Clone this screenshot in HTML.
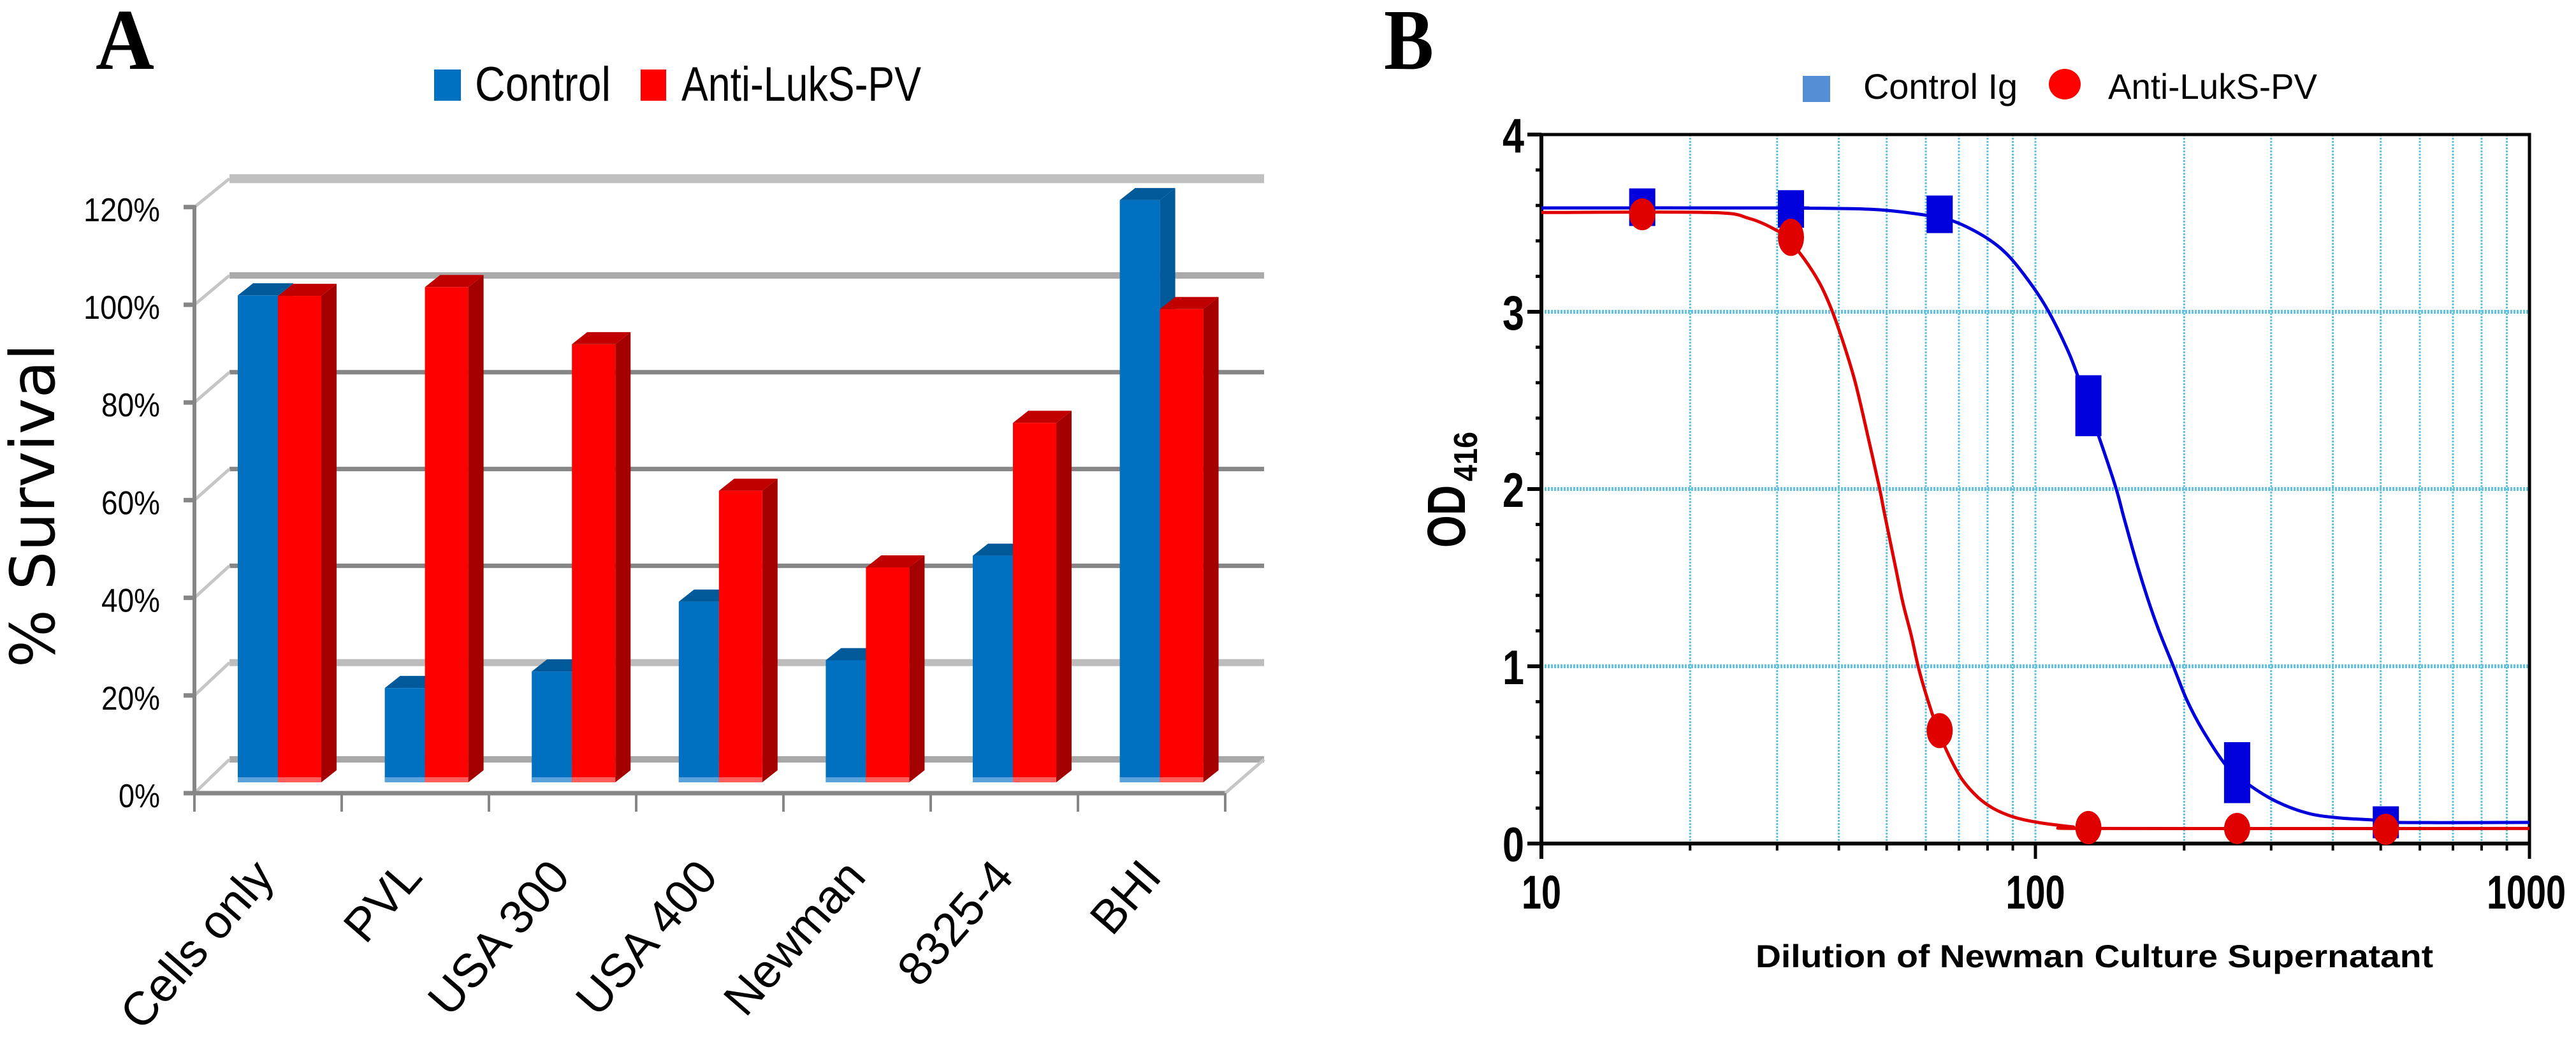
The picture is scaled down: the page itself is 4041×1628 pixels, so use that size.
<!DOCTYPE html>
<html lang="en"><head><meta charset="utf-8"><title>Survival and OD416 charts</title>
<style>html,body{margin:0;padding:0;background:#fff}svg{display:block}text{font-family:"Liberation Sans",sans-serif;fill:#000}</style></head>
<body>
<svg id="fig" xmlns="http://www.w3.org/2000/svg" width="4041" height="1628" viewBox="0 0 4041 1628">
<rect width="4041" height="1628" fill="#fff"/>
<text x="150" y="108" font-size="136" font-weight="bold" textLength="92" lengthAdjust="spacingAndGlyphs" style="font-family:'Liberation Serif',serif">A</text>
<text x="2171" y="108" font-size="136" font-weight="bold" textLength="78" lengthAdjust="spacingAndGlyphs" style="font-family:'Liberation Serif',serif">B</text>
<g>
<rect x="681" y="109" width="42" height="49" fill="#0070c0"/>
<text x="745" y="158" font-size="76" textLength="213" lengthAdjust="spacingAndGlyphs">Control</text>
<rect x="1005" y="109" width="40" height="49" fill="#ff0000"/>
<text x="1069" y="158" font-size="76" textLength="376" lengthAdjust="spacingAndGlyphs">Anti-LukS-PV</text>
</g>
<text transform="translate(85 1047) rotate(-90)" font-size="96" textLength="508" lengthAdjust="spacingAndGlyphs" style="font-family:'DejaVu Sans',sans-serif">% Survival</text>
<g id="chartA"></g>
<g>
<rect x="2828" y="119" width="43" height="41" fill="#558ed5"/>
<text x="2923" y="155" font-size="56" textLength="242" lengthAdjust="spacingAndGlyphs">Control Ig</text>
<ellipse cx="3239" cy="132" rx="25" ry="24" fill="#ff0000"/>
<text x="3307" y="155" font-size="56" textLength="328" lengthAdjust="spacingAndGlyphs">Anti-LukS-PV</text>
</g>
<g id="chartB"></g>
<text x="2754" y="1517" font-size="50" font-weight="bold" textLength="1063" lengthAdjust="spacingAndGlyphs">Dilution of Newman Culture Supernatant</text>
<g>
<text transform="translate(2298 859) rotate(-90)" font-size="84" font-weight="bold" textLength="98" lengthAdjust="spacingAndGlyphs">OD</text>
<text transform="translate(2317 755) rotate(-90)" font-size="52" font-weight="bold" textLength="78" lengthAdjust="spacingAndGlyphs">416</text>
</g>
</svg>
<script>
// Panel A data
const categories = ['Cells only', 'PVL', 'USA 300', 'USA 400', 'Newman', '8325-4', 'BHI'];
const controlValues = [99.7, 19.3, 22.7, 37, 25, 46.4, 119.2];
const antiValues = [99.6, 101.4, 89.7, 59.7, 44, 73.6, 96.9];
const percentTicks = [0, 20, 40, 60, 80, 100, 120];
const percentTickLabels = ['0%', '20%', '40%', '60%', '80%', '100%', '120%'];

// Panel B data
const dilutions = [16, 32, 64, 128, 256, 512];
const controlMeans = [3.59, 3.58, 3.55, 2.47, 0.40, 0.12];
const controlSpread = [0.106, 0.106, 0.106, 0.172, 0.172, 0.09];
const antiMeans = [3.55, 3.42, 0.637, 0.09, 0.085, 0.08];
const antiSpread = [0.09, 0.105, 0.099, 0.094, 0.088, 0.088];
const controlCurveX = [10, 31.6, 34, 47.4, 60, 68.4, 79.3, 88.6, 98.9, 106.4, 114.6, 121, 135, 145.5, 151, 159.6, 168.6, 178, 190.6, 202.6, 218, 243.6, 272, 309, 358, 415, 481, 537, 1000];
const controlCurveY = [3.586, 3.586, 3.585, 3.577, 3.545, 3.51, 3.42, 3.31, 3.14, 3.0, 2.82, 2.66, 2.28, 2.007, 1.84, 1.6, 1.385, 1.198, 0.993, 0.809, 0.64, 0.438, 0.327, 0.234, 0.169, 0.144, 0.133, 0.119, 0.119];
const antiCurveX = [10, 21.9, 26.3, 29.9, 31.6, 34, 36.6, 38.7, 40.9, 43.2, 45.7, 48.3, 49.5, 52, 53.9, 56, 58, 60.3, 63.5, 67, 71, 76.4, 82.2, 90.2, 100.7, 118.9, 132.7, 1000];
const antiCurveY = [3.56, 3.56, 3.527, 3.46, 3.405, 3.3, 3.16, 3.01, 2.82, 2.6, 2.31, 2.01, 1.86, 1.57, 1.36, 1.18, 0.99, 0.826, 0.64, 0.49, 0.363, 0.262, 0.198, 0.15, 0.12, 0.094, 0.085, 0.085];
const odTicks = [0, 1, 2, 3, 4];
const odMinorTicks = [0.2, 0.4, 0.6, 0.8, 1.2, 1.4, 1.6, 1.8, 2.2, 2.4, 2.6, 2.8, 3.2, 3.4, 3.6, 3.8];
const logMajorTicks = [10, 100, 1000];
const logMinorTicks = [20, 30, 40, 50, 60, 70, 80, 90, 200, 300, 400, 500, 600, 700, 800, 900];

const NS = 'http://www.w3.org/2000/svg';
function mk(tag, attrs, parent, txt) {
  const el = document.createElementNS(NS, tag);
  for (const k in attrs) el.setAttribute(k, attrs[k]);
  if (txt !== undefined) el.textContent = txt;
  parent.appendChild(el);
  return el;
}

/* ---------- Panel A ---------- */
(function () {
  const g = document.getElementById('chartA');
  const axisY = v => 1244 - v * 7.66;
  const backY = v => 1191 - v * 7.59;
  const barTop = v => 1227 - v * 7.66;
  const tickX = i => 305 + i * 231;
  const barX = i => 373 + i * 230.6;
  const dx = 24, dy = 19, wB = 63, wR = 68, base = 1227;
  const gridStyle = {0:[10,'#a8a8a8'],20:[11,'#bdbdbd'],40:[7,'#868686'],60:[7,'#868686'],80:[7,'#868686'],100:[10,'#aaaaaa'],120:[14,'#c0c0c0']};

  percentTicks.forEach((v, i) => {
    const s = gridStyle[v];
    const gl = mk('line', {x1: 360, x2: 1983, y1: backY(v), y2: backY(v), stroke: s[1], 'stroke-width': s[0]}, g);
    
    
    const dp = mk('line', {x1: 305, y1: axisY(v), x2: 360, y2: backY(v), stroke: '#c6c6c6', 'stroke-width': 5}, g);
    
    
    const tk = mk('line', {x1: 288, x2: 305, y1: axisY(v), y2: axisY(v), stroke: '#868686', 'stroke-width': 7}, g);
    
    
    const lab = percentTickLabels[i];
    const lt = mk('text', {x: 251, y: axisY(v) + 22, 'font-size': 52, 'text-anchor': 'end', textLength: lab.length === 4 ? 120 : lab.length === 3 ? 92 : 65, lengthAdjust: 'spacingAndGlyphs'}, g, lab);
    
    
  });

  const ax = mk('line', {x1: 305, x2: 305, y1: axisY(120) - 3, y2: axisY(0) + 3, stroke: '#868686', 'stroke-width': 6}, g);
  
  
  const fl = mk('line', {x1: 305, x2: 1922, y1: axisY(0), y2: axisY(0), stroke: '#868686', 'stroke-width': 7}, g);
  
  
  const fr = mk('line', {x1: 1922, y1: axisY(0), x2: 1983, y2: backY(0), stroke: '#c6c6c6', 'stroke-width': 5}, g);
  
  
  for (let i = 0; i <= categories.length; i++) {
    const t = mk('line', {x1: tickX(i), x2: tickX(i), y1: axisY(0), y2: 1273, stroke: '#868686', 'stroke-width': 4}, g);
    
    
  }

  function bar(x, w, v, front, top, side, strip, name) {
    const y = barTop(v);
    const b = mk('g', {}, g);
    
    
    mk('polygon', {points: `${x + w},${y} ${x + w + dx},${y - dy} ${x + w + dx},${base - dy} ${x + w},${base}`, fill: side}, b);
    mk('polygon', {points: `${x},${y} ${x + dx},${y - dy} ${x + w + dx},${y - dy} ${x + w},${y}`, fill: top}, b);
    mk('rect', {x: x, y: y, width: w, height: base - y, fill: front}, b);
    mk('rect', {x: x, y: base - 8, width: w, height: 8, fill: strip}, b);
  }
  categories.forEach((c, i) => {
    const x = barX(i);
    bar(x, wB, controlValues[i], '#0070c0', '#005a9a', '#005a9a', '#5aa2dc', 'bar-control-' + c);
    bar(x + wB, wR, antiValues[i], '#ff0000', '#c00000', '#a50000', '#ff5c5c', 'bar-anti-' + c);
    const t = mk('text', {'font-size': 74, 'text-anchor': 'end', transform: `translate(${305 + i * 232 + 128} 1377) rotate(-49)`}, g, c);
    
    
  });
})();

/* ---------- Panel B ---------- */
(function () {
  const g = document.getElementById('chartB');
  const X = v => 2418 + (Math.log10(v) - 1) * 775;
  const Y = v => 1323 - v * 278;
  const top = Y(4), bot = Y(0);

  logMinorTicks.forEach(v => {
    const l = mk('line', {x1: X(v), x2: X(v), y1: top, y2: bot, stroke: '#62c3e0', 'stroke-width': 3, 'stroke-dasharray': '3 2'}, g);
    
    
    const t = mk('line', {x1: X(v), x2: X(v), y1: bot, y2: bot + 11, stroke: '#000', 'stroke-width': 4}, g);
    
    
  });
  const mid = mk('line', {x1: X(100), x2: X(100), y1: top, y2: bot, stroke: '#62c3e0', 'stroke-width': 3, 'stroke-dasharray': '3 2'}, g);
  
  
  [1, 2, 3].forEach(v => {
    const l = mk('line', {x1: 2418, x2: 3968, y1: Y(v), y2: Y(v), stroke: '#62c3e0', 'stroke-width': 6, 'stroke-dasharray': '3 2'}, g);
    
    
  });

  odMinorTicks.forEach(v => {
    const t = mk('line', {x1: 2409, x2: 2418, y1: Y(v), y2: Y(v), stroke: '#000', 'stroke-width': 5}, g);
    
    
  });
  odTicks.forEach(v => {
    const t = mk('line', {x1: 2396, x2: 2418, y1: Y(v), y2: Y(v), stroke: '#000', 'stroke-width': 6}, g);
    
    
    const lt = mk('text', {x: 2391, y: Y(v) + 28, 'font-size': 76, 'font-weight': 'bold', 'text-anchor': 'end', textLength: 34, lengthAdjust: 'spacingAndGlyphs'}, g, String(v));
    
    
  });
  logMajorTicks.forEach((v, i) => {
    const t = mk('line', {x1: X(v), x2: X(v), y1: bot, y2: bot + 24, stroke: '#000', 'stroke-width': 5}, g);
    
    
    const s = String(v);
    const lt = mk('text', {x: X(v) + (i === 2 ? -5 : 0), y: 1425, 'font-size': 74, 'font-weight': 'bold', 'text-anchor': 'middle', textLength: s.length * 31, lengthAdjust: 'spacingAndGlyphs'}, g, s);
    
    
  });

  const frame = mk('path', {d: `M2418 ${top} H3968 V${bot}`, fill: 'none', stroke: '#000', 'stroke-width': 5}, g);
  
  
  const yAxis = mk('line', {x1: 2418, x2: 2418, y1: top - 2, y2: bot + 24, stroke: '#000', 'stroke-width': 6}, g);
  
  
  const xAxis = mk('line', {x1: 2418, x2: 3968, y1: bot, y2: bot, stroke: '#000', 'stroke-width': 6}, g);
  
  

  // Smooth path through the measured curve points (screen-space Catmull-Rom).
  function smoothPath(xs, ys) {
    const p = xs.map((x, i) => [X(x), Y(ys[i])]);
    let d = 'M' + p[0][0].toFixed(1) + ' ' + p[0][1].toFixed(1);
    for (let i = 0; i < p.length - 1; i++) {
      const a = p[Math.max(i - 1, 0)], b = p[i], c = p[i + 1], e = p[Math.min(i + 2, p.length - 1)];
      const c1x = b[0] + (c[0] - a[0]) / 6, c1y = b[1] + (c[1] - a[1]) / 6;
      const c2x = c[0] - (e[0] - b[0]) / 6, c2y = c[1] - (e[1] - b[1]) / 6;
      d += ' C' + [c1x, c1y, c2x, c2y, c[0], c[1]].map(n => n.toFixed(1)).join(' ');
    }
    return d;
  }
  const c1 = mk('path', {d: smoothPath(controlCurveX, controlCurveY), fill: 'none', stroke: '#0000dc', 'stroke-width': 5, 'stroke-linejoin': 'round'}, g);
  
  
  dilutions.forEach((d, i) => {
    const yT = Y(controlMeans[i] + controlSpread[i]);
    const yB = Y(controlMeans[i] - controlSpread[i]);
    const m = mk('rect', {x: X(d) - 20.5, y: yT, width: 41, height: yB - yT, fill: '#0000dc'}, g);
    
    
  });
  const c2 = mk('path', {d: smoothPath(antiCurveX, antiCurveY), fill: 'none', stroke: '#e00000', 'stroke-width': 5, 'stroke-linejoin': 'round'}, g);
  
  
  dilutions.forEach((d, i) => {
    const m = mk('ellipse', {cx: X(d), cy: Y(antiMeans[i]), rx: 20.5, ry: antiSpread[i] * 278, fill: '#e00000'}, g);
    
    
  });
})();
</script>
</body></html>
